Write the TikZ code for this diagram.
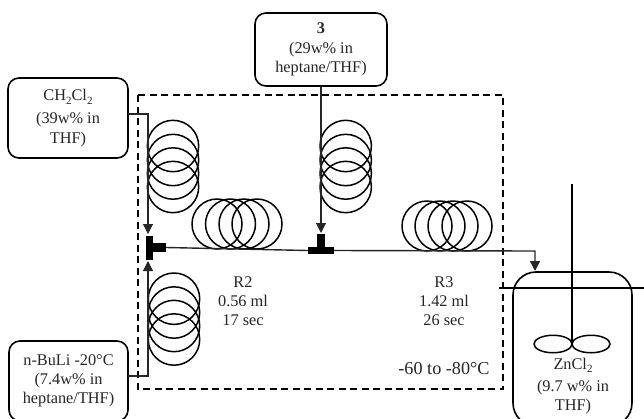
\documentclass[tikz,border=0pt]{standalone}
\usepackage{fontspec}
\setmainfont{Liberation Serif}
\usetikzlibrary{arrows.meta,shapes.geometric}
\tikzset{
  txt/.style={align=center,inner sep=0pt,font=\fontsize{16.3}{19.3}\selectfont,text=black!85},
  feedbox/.style={draw,line width=1.6pt,rounded corners=11pt,inner sep=0pt,align=center,
    font=\fontsize{16.3}{19.3}\selectfont,text=black!85},
  coilline/.style={line width=1.5pt},
  pipe/.style={line width=1.1pt,black!85},
  feed/.style={pipe,-{Triangle[length=10pt,width=10pt]}},
  teepart/.style={fill=black,inner sep=0pt,draw=none},
  zone/.style={line width=1.5pt,dash pattern=on 7pt off 4.5pt},
  paddle/.style={draw,ellipse,line width=1.5pt,minimum width=38pt,minimum height=17.5pt,inner sep=0pt}
}
\newcommand{\lowsub}[1]{\raisebox{-3.5pt}{\fontsize{11}{11}\selectfont #1}}
\begin{document}
\begin{tikzpicture}[x=1pt,y=-1pt]
\clip (0,0) rectangle (644,418);
\draw[zone] (138,95) rectangle (503,389);
% coils
\foreach \cx/\cy in {173/146,173/160,173/173.5,173/187,
                     174/298.7,174/312.5,174/326,174/339.5,
                     345.7/146,345.7/160,345.7/173.5,345.7/187}
  \draw[coilline] (\cx,\cy) circle[radius=25.7pt];
\foreach \cx/\cy in {217/224,230.5/224,244/224,257/224,
                     427/226,440/226,453/226,467/226}
  \draw[coilline] (\cx,\cy) circle[radius=25pt];
% boxes
\node[feedbox,minimum width=120pt,minimum height=80pt] (ch) at (68,118)
  {CH\lowsub{2}Cl\lowsub{2}\\[4pt](39w\% in\\THF)};
\node[feedbox,minimum width=119pt,minimum height=80pt] (bu) at (68.5,381)
  {n-BuLi -20°C\\(7.4w\% in\\heptane/THF)};
\node[feedbox,minimum width=132pt,minimum height=73pt] (th) at (321,49.5)
  {\textbf{3}\\(29w\% in\\heptane/THF)};
\node[draw,line width=1.6pt,rounded corners=23pt,minimum width=119pt,minimum height=154pt,inner sep=0pt] (re) at (572.5,349) {};
% tees
\node[teepart,minimum width=7.5pt,minimum height=24pt] (t1v) at (149.7,248) {};
\node[teepart,minimum width=13pt,minimum height=9pt] (t1h) at (159.5,247.5) {};
\node[teepart,minimum width=26pt,minimum height=7.5pt] (t2h) at (321,250.5) {};
\node[teepart,minimum width=8pt,minimum height=13pt] (t2v) at (321,240.5) {};
% connector ports
\coordinate (chout) at (128,114);
\coordinate (chdown) at (148,114);
\coordinate (chtip) at (148,234);
\coordinate (buout) at (128,376);
\coordinate (buup) at (148,376);
\coordinate (butip) at (148,261);
\coordinate (thtip) at (321,233);
\coordinate (reint) at (535,251);
\coordinate (rein) at (535,271);
\draw[feed] (chout) -- (chdown) -- (chtip);
\draw[feed] (buout) -- (buup) -- (butip);
\draw[feed] (th.south) -- (thtip);
\draw[pipe,line width=1.4pt] (t1h.east) -- (t2h.west);
\draw[feed,line width=1.4pt] (t2h.east) -- (reint) -- (rein);
% reactor
\coordinate (stirtop) at (572,184);
\coordinate (stirbot) at (572,344);
\coordinate (lidL) at (499,288);
\coordinate (lidR) at (644,288);
\draw[line width=1.5pt] (lidL) -- (lidR);
\draw[line width=1.5pt] (stirtop) -- (stirbot);
\node[paddle] (pl) at (553,344) {};
\node[paddle] (pr) at (591,344) {};
% labels
\node[txt] (znl) at (573,386) {ZnCl\lowsub{2}\\[3pt](9.7 w\% in\\THF)};
\node[txt] (r2) at (243,301) {R2\\0.56 ml\\17 sec};
\node[txt] (r3) at (444,301) {R3\\1.42 ml\\26 sec};
\node[txt,font=\fontsize{18.2}{20}\selectfont] (tmp) at (444,369) {-60 to -80°C};
\end{tikzpicture}
\end{document}
